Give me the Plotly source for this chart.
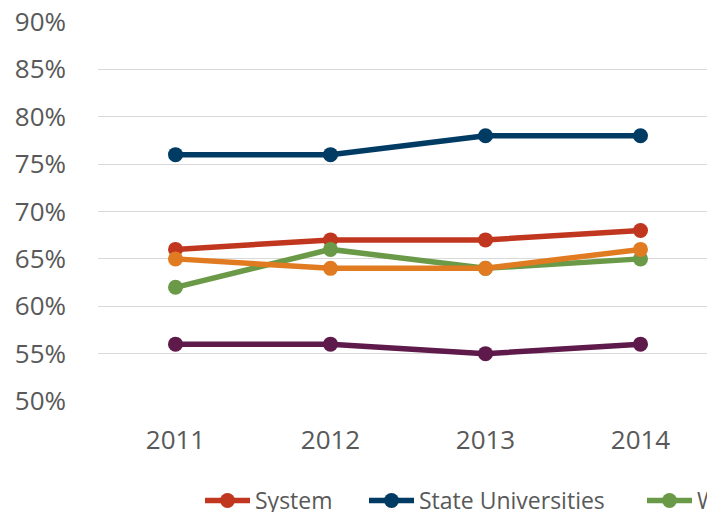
import plotly.graph_objects as go

years = ["2011", "2012", "2013", "2014"]
system = [0.66, 0.67, 0.67, 0.68]
state_univ = [0.76, 0.76, 0.78, 0.78]
western = [0.62, 0.66, 0.64, 0.65]
orange_series = [0.65, 0.64, 0.64, 0.66]
purple_series = [0.56, 0.56, 0.55, 0.56]

series = [
    ("System", system, "#C0361E", "legend"),
    ("State Universities", state_univ, "#003B64", "legend2"),
    ("Western", western, "#6A9A48", "legend3"),
    ("Regional Universities", orange_series, "#E07B22", "legend4"),
    ("Community Colleges", purple_series, "#5E1A4A", "legend4"),
]

W, H = 1300, 512
left, right_edge = 98, 718
top, bottom = 22, 401
pw, ph = right_edge - left, bottom - top

fig = go.Figure()
for name, vals, col, lg in series:
    fig.add_trace(go.Scatter(
        x=years, y=vals, name=name, mode="lines+markers",
        line=dict(color=col, width=5.5),
        marker=dict(color=col, size=15),
        legend=lg,
    ))


def legend_at(px_marker):
    return dict(
        orientation="h", x=(px_marker - 25 - left) / pw, xanchor="left",
        y=-(479 - bottom) / ph, yanchor="top",
        font=dict(size=23, color="#595959"),
        bgcolor="rgba(0,0,0,0)", itemwidth=45,
    )


fig.update_layout(
    width=W, height=H,
    margin=dict(l=left, r=W - right_edge, t=top, b=H - bottom, autoexpand=False),
    plot_bgcolor="white", paper_bgcolor="white",
    font=dict(family="Open Sans", color="#595959"),
    showlegend=True,
    legend=legend_at(225),
    legend2=legend_at(389),
    legend3=legend_at(667),
    legend4=legend_at(800),
    xaxis=dict(
        type="category", range=[-0.5, 3.5],
        showgrid=False, showline=False, zeroline=False,
        tickfont=dict(size=26, color="#595959"),
        ticks="", ticklabelstandoff=21,
    ),
    yaxis=dict(
        range=[0.5, 0.9], dtick=0.05, tickformat=".0%",
        showgrid=True, gridcolor="#D9D9D9", gridwidth=1.3,
        zeroline=False, showline=False,
        tickfont=dict(size=26, color="#595959"),
        ticks="", ticklabelstandoff=31,
    ),
)

fig.write_html(
    "out.html",
    post_script="document.body.style.margin='0';document.body.style.overflow='hidden';",
)
